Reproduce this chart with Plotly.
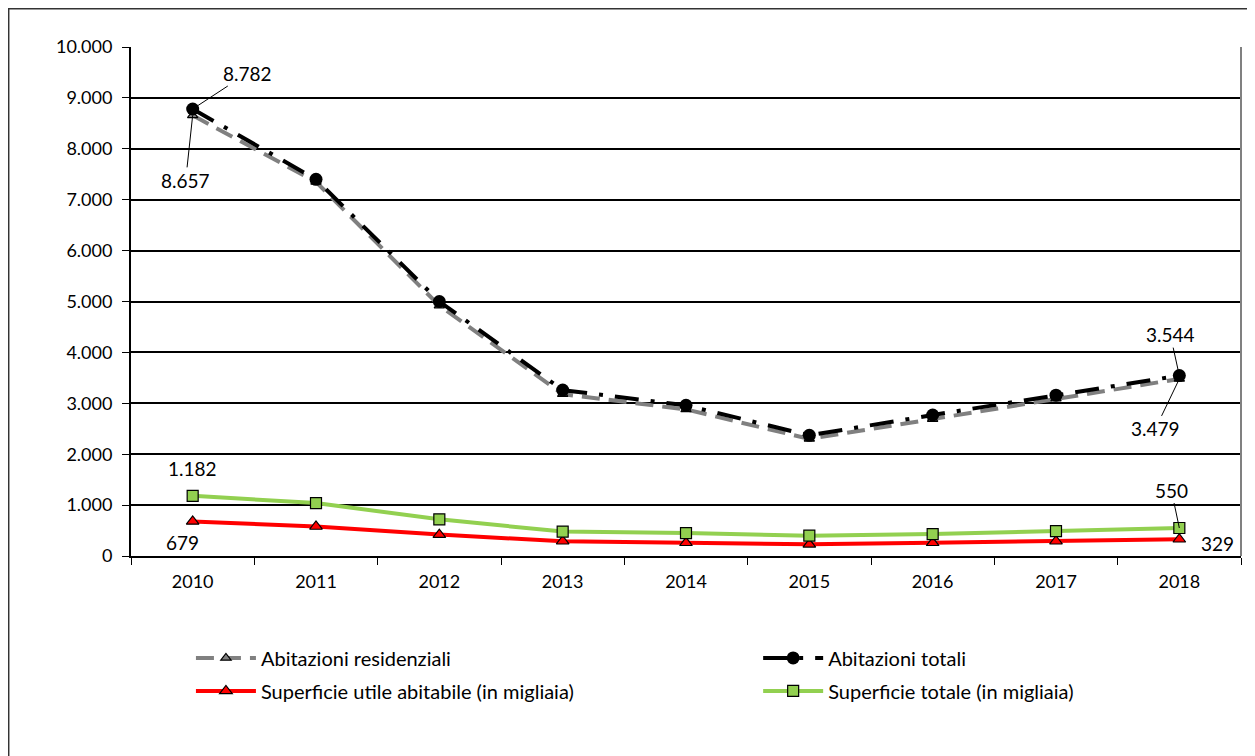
import plotly.graph_objects as go

years = ["2010", "2011", "2012", "2013", "2014", "2015", "2016", "2017", "2018"]
abit_residenziali = [8657, 7350, 4920, 3180, 2880, 2300, 2690, 3090, 3479]
abit_totali = [8782, 7400, 5000, 3260, 2960, 2370, 2770, 3160, 3544]
sup_utile = [679, 580, 420, 290, 260, 230, 260, 290, 329]
sup_totale = [1182, 1040, 720, 480, 450, 400, 430, 490, 550]
y_ticks = [0, 1000, 2000, 3000, 4000, 5000, 6000, 7000, 8000, 9000, 10000]

FONT = "Lato"
FS = 18
FS_ANN = 19
FS_LEG = 20

fig = go.Figure()
fig.add_trace(go.Scatter(
    x=years, y=abit_residenziali, name="Abitazioni residenziali", mode="lines+markers",
    line=dict(color="#808080", width=4, dash="18px,9px"),
    marker=dict(symbol="triangle-up", size=9, color="#808080", line=dict(color="black", width=1.2)),
    legend="legend", legendgroup="a"))
fig.add_trace(go.Scatter(
    x=years, y=abit_totali, name="Abitazioni totali", mode="lines+markers",
    line=dict(color="black", width=4, dash="24px,12px,4px,12px"),
    marker=dict(symbol="circle", size=13, color="black"),
    legend="legend2", legendgroup="b"))
fig.add_trace(go.Scatter(
    x=years, y=sup_utile, name="Superficie utile abitabile (in migliaia)", mode="lines+markers",
    line=dict(color="#FF0000", width=4),
    marker=dict(symbol="triangle-up", size=11, color="#FF0000", line=dict(color="black", width=1.2)),
    legend="legend", legendgroup="c"))
fig.add_trace(go.Scatter(
    x=years, y=sup_totale, name="Superficie totale (in migliaia)", mode="lines+markers",
    line=dict(color="#92D050", width=4),
    marker=dict(symbol="square", size=11, color="#92D050", line=dict(color="black", width=1.2)),
    legend="legend2", legendgroup="d"))

ann = []
def lab(i, y, text, ax=None, ay=None, xs=0, ys=0):
    base = dict(x=i, y=y, xref="x", yref="y", text=text,
                font=dict(size=FS_ANN, color="black", family=FONT))
    if ax is None:
        base.update(showarrow=False, xshift=xs, yshift=ys)
    else:
        base.update(showarrow=True, arrowhead=0, arrowwidth=1, arrowcolor="black",
                    ax=ax, ay=ay, standoff=0)
    ann.append(base)

last = len(years) - 1
lab(0, abit_totali[0], "8.782", ax=55, ay=-36)
lab(0, abit_residenziali[0], "8.657", ax=-7, ay=65)
lab(last, abit_totali[last], "3.544", ax=-9, ay=-41)
lab(last, abit_residenziali[last], "3.479", ax=-24, ay=50)
lab(0, sup_totale[0], "1.182", ys=27)
lab(0, sup_utile[0], "679", xs=-10, ys=-21)
lab(last, sup_totale[last], "550", ax=-8, ay=-38)
lab(last, sup_utile[last], "329", xs=38, ys=-4)

fig.update_layout(
    width=1255, height=756,
    margin=dict(l=123, r=22, t=39, b=208),
    paper_bgcolor="white", plot_bgcolor="white",
    separators=",.",
    font=dict(family=FONT, size=FS, color="black"),
    showlegend=True,
    legend=dict(x=0.054, y=-0.162, xanchor="left", yanchor="top", orientation="v",
                font=dict(size=FS_LEG, family=FONT), tracegroupgap=4, itemwidth=60,
                bgcolor="rgba(0,0,0,0)"),
    legend2=dict(x=0.565, y=-0.162, xanchor="left", yanchor="top", orientation="v",
                 font=dict(size=FS_LEG, family=FONT), tracegroupgap=4, itemwidth=60,
                 bgcolor="rgba(0,0,0,0)"),
    annotations=ann,
    shapes=[
        dict(type="rect", xref="paper", yref="paper", x0=-0.1104, x1=1.05, y0=-0.45, y1=1.0756,
             line=dict(color="#333333", width=2), layer="below"),
        dict(type="line", xref="paper", yref="paper", x0=1, x1=1, y0=0, y1=1,
             line=dict(color="#808080", width=2)),
    ],
)
fig.update_xaxes(
    type="category", tickson="boundaries", ticks="outside", ticklen=7, tickcolor="black",
    showline=True, linecolor="black", linewidth=2, showgrid=False, ticklabelstandoff=8,
    tickfont=dict(size=FS, family=FONT), range=[-0.5, 8.5])
fig.update_yaxes(
    range=[0, 10000], tickvals=y_ticks, tickformat=",.0f", ticks="outside", ticklen=7,
    tickcolor="black", showline=True, linecolor="black", linewidth=2, ticklabelstandoff=6,
    showgrid=True, gridcolor="black", gridwidth=1.5, zeroline=False,
    tickfont=dict(size=FS, family=FONT))

fig.write_html("out.html")
